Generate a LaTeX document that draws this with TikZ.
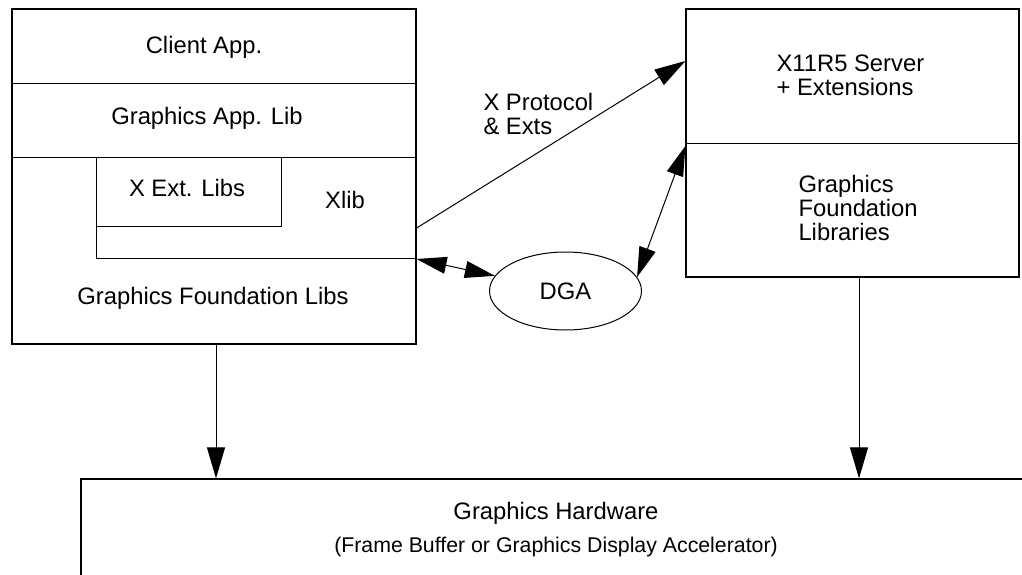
\documentclass[tikz,border=0pt]{standalone}
\usepackage{fontspec}
\setmainfont{Liberation Sans}
\usetikzlibrary{arrows.meta,shapes.geometric}
\begin{document}
\begin{tikzpicture}[x=1pt,y=-1pt,line width=1pt,
  lbl/.style={font=\fontsize{23.8}{24}\selectfont,inner sep=0pt,align=left},
  small/.style={font=\fontsize{21.3}{22}\selectfont,inner sep=0pt},
  box/.style={draw,line width=1.2pt,inner sep=0pt},
  arr/.style={-{Triangle[length=31pt,width=18pt]}},
  darr/.style={{Triangle[length=30pt,width=17pt]}-{Triangle[length=30pt,width=17pt]}}]
\clip (0,0) rectangle (1022,575);

% client-side stack
\node[box,minimum width=404pt,minimum height=335pt] (client) at (214,176.5) {};
\draw (12,84) -- (416,84);
\draw (12,157) -- (416,157);
\draw (96,157) -- (96,258) -- (416,258);
\draw (96,226) -- (281,226) -- (281,157);
\node[lbl] (capp) at (204,47) {Client App.};
\node[lbl] (galib) at (207,118) {Graphics App. Lib};
\node[lbl] (xext) at (187,188) {X Ext. Libs};
\node[lbl] (xlib) at (345,200) {Xlib};
\node[lbl] (gfl) at (213,298) {Graphics Foundation Libs};

% server side
\node[box,minimum width=333pt,minimum height=268pt] (server) at (852.5,143) {};
\draw (686,143) -- (1019,143);
\node[lbl,anchor=west] (xsrv) at (776,75) {X11R5 Server\\+ Extensions};
\node[lbl,anchor=west] (sgfl) at (798,208) {Graphics\\Foundation\\Libraries};

% direct graphics access
\node[draw,ellipse,minimum width=152pt,minimum height=78pt,inner sep=0pt,lbl] (dga) at (565.5,291) {DGA};

% hardware
\node[box,minimum width=959pt,minimum height=121pt] (hw) at (560.5,539.5) {};
\node[lbl] (hwt) at (556,513) {Graphics Hardware};
\node[small] (hws) at (556,547) {(Frame Buffer or Graphics Display Accelerator)};

% connections
\draw[arr] ([yshift=-51.5pt]client.east) -- ([yshift=82pt]server.west);
\node[lbl,anchor=west] (proto) at (483,114) {X Protocol\\\& Exts};
\draw[darr] ([yshift=-82.5pt]client.east) -- (dga);
\draw[darr] (dga.11) -- ([yshift=-3pt]server.west);
\draw[arr] ([xshift=2pt]client.south) -- ([xshift=2pt]client.south |- hw.north);
\draw[arr] ([xshift=6.5pt]server.south) -- ([xshift=6.5pt]server.south |- hw.north);
\end{tikzpicture}
\end{document}
